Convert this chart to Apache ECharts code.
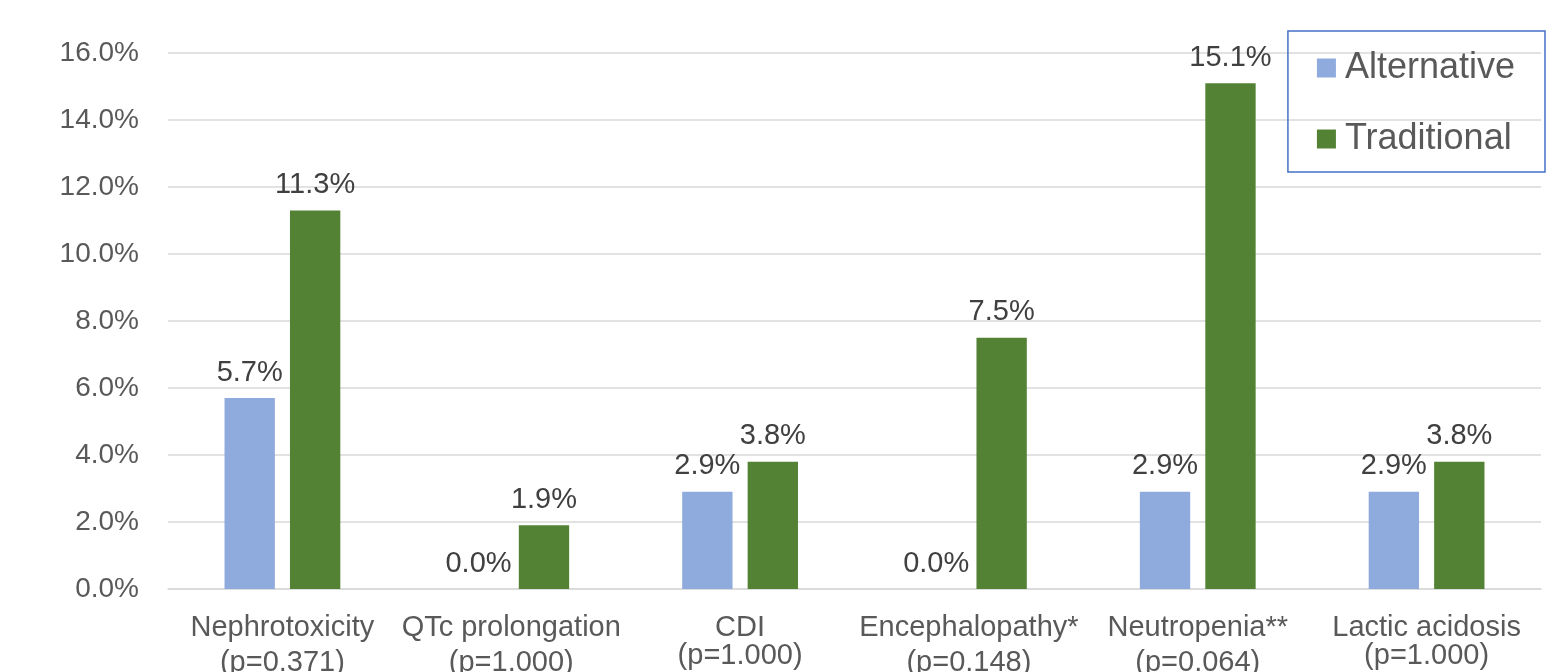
<!DOCTYPE html>
<html><head><meta charset="utf-8">
<script src="https://cdn.jsdelivr.net/npm/echarts@6/dist/echarts.min.js"></script>
<style>html,body{margin:0;padding:0;background:#fff}#c{width:1556px;height:672px}</style>
</head><body><div id="c"></div>
<script>
var categories = ['Nephrotoxicity\n(p=0.371)','QTc prolongation\n(p=1.000)','CDI\n(p=1.000)','Encephalopathy*\n(p=0.148)','Neutropenia**\n(p=0.064)','Lactic acidosis\n(p=1.000)'];
var alternative = [5.7, 0.0, 2.9, 0.0, 2.9, 2.9];
var traditional = [11.3, 1.9, 3.8, 7.5, 15.1, 3.8];
var yTicks = {min: 0, max: 16, interval: 2};
var tightSecondLine = [2, 5];

var chart = echarts.init(document.getElementById('c'));
var font = 'Liberation Sans, Arial, sans-serif';
var lbl = {show: true, position: 'top', distance: 11, color: '#404040', fontSize: 29, fontFamily: font,
  formatter: function(p){ return p.value.toFixed(1) + '%'; }};
chart.setOption({
  animation: false,
  grid: {left: 168, right: 15, top: 53, bottom: 83, outerBoundsMode: 'none', containLabel: false},
  legend: {
    orient: 'vertical', right: 11, top: 31,
    padding: [17, 30, 13, 29],
    borderColor: '#4472C4', borderWidth: 1.5,
    itemWidth: 19, itemHeight: 19, itemGap: 31,
    icon: 'rect',
    textStyle: {fontSize: 36, lineHeight: 40, color: '#595959', fontFamily: font, padding: [0, 0, 0, 4]},
    data: ['Alternative', 'Traditional']
  },
  xAxis: {
    type: 'category', data: categories,
    axisLine: {lineStyle: {color: '#d9d9d9', width: 1.5}},
    axisTick: {show: false},
    axisLabel: {color: '#595959', fontSize: 29, fontFamily: font, lineHeight: 33, margin: 22, interval: 0,
      formatter: function(v, i){
        var parts = v.split('\n');
        var second = tightSecondLine.indexOf(i) >= 0 ? 'c' : 'b';
        return '{a|' + parts[0] + '}\n{' + second + '|' + parts[1] + '}';
      },
      rich: {
        a: {fontSize: 29, lineHeight: 33, color: '#595959', fontFamily: font},
        b: {fontSize: 29, lineHeight: 37, color: '#595959', fontFamily: font},
        c: {fontSize: 29, lineHeight: 23, color: '#595959', fontFamily: font}
      }
    }
  },
  yAxis: {
    type: 'value', min: yTicks.min, max: yTicks.max, interval: yTicks.interval,
    axisLine: {show: false}, axisTick: {show: false},
    splitLine: {lineStyle: {color: '#d9d9d9', width: 1.5}},
    axisLabel: {color: '#595959', fontSize: 28, fontFamily: font, margin: 29,
      formatter: function(v){ return v.toFixed(1) + '%'; }}
  },
  series: [
    {name: 'Alternative', type: 'bar', data: alternative, barWidth: '22%', barGap: '30%',
     itemStyle: {color: '#8FAADC'}, label: lbl},
    {name: 'Traditional', type: 'bar', data: traditional, barWidth: '22%',
     itemStyle: {color: '#548235'}, label: lbl}
  ]
});
</script></body></html>
